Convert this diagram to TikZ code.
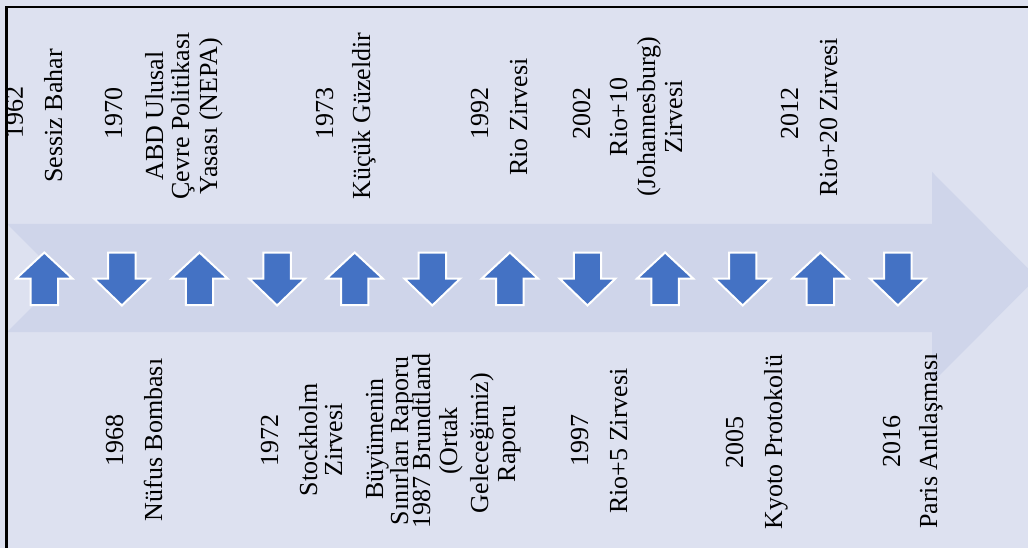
\documentclass[tikz,border=0pt]{standalone}
\usepackage{fontspec}
\setmainfont{Liberation Serif}
\definecolor{bgcol}{RGB}{221,225,240}
\definecolor{shaftcol}{RGB}{207,213,234}
\definecolor{blu}{RGB}{68,114,196}
\begin{document}
\begin{tikzpicture}[x=1pt,y=-1pt,
  txt/.style={rotate=90,anchor=base,inner sep=0pt,font=\fontsize{26}{28}\selectfont},
  blk/.style={fill=blu,draw=white,line width=2pt,line join=miter}]
\useasboundingbox (0,0) rectangle (1028,548);
\fill[bgcol] (0,0) rectangle (1028,548);
% big notched arrow
\fill[shaftcol] (7,224) -- (932,224) -- (932,172) -- (1037,277.5) -- (932,383) -- (932,332) -- (7,332) -- (61,278) -- cycle;
% small up / down arrows
\foreach \i in {0,2,...,10} {
  \pgfmathsetmacro\c{44.3+77.6*\i}
  \draw[blk] (\c,252.5) -- (\c+28,278.5) -- (\c+13.7,278.5) -- (\c+13.7,305) -- (\c-13.7,305) -- (\c-13.7,278.5) -- (\c-28,278.5) -- cycle;
}
\foreach \i in {1,3,...,11} {
  \pgfmathsetmacro\c{44.3+77.6*\i}
  \draw[blk] (\c-13.7,252.5) -- (\c+13.7,252.5) -- (\c+13.7,278.5) -- (\c+28,278.5) -- (\c,305.5) -- (\c-28,278.5) -- (\c-13.7,278.5) -- cycle;
}
% frame lines
\draw[line width=2.2pt,black] (6.5,548) -- (6.5,7) -- (1028,7);
% top texts
\node[txt] (t1y) at (23,113) {1962};
\node[txt] (t1a) at (62,116) {Sessiz Bahar};
\node[txt] (t2y) at (122,114) {1970};
\node[txt] (t2a) at (163,116) {ABD Ulusal};
\node[txt] (t2b) at (189,116) {Çevre Politikası};
\node[txt] (t2c) at (217,116) {Yasası (NEPA)};
\node[txt] (t3y) at (333,114) {1973};
\node[txt] (t3a) at (370,116) {Küçük Güzeldir};
\node[txt] (t4y) at (488,114) {1992};
\node[txt] (t4a) at (527,117) {Rio Zirvesi};
\node[txt] (t5y) at (590,114) {2002};
\node[txt] (t5a) at (627,117) {Rio+10};
\node[txt] (t5b) at (655,117) {(Johannesburg)};
\node[txt] (t5c) at (682,117) {Zirvesi};
\node[txt] (t6y) at (798,114) {2012};
\node[txt] (t6a) at (837,117) {Rio+20 Zirvesi};
% bottom texts
\node[txt] (b1y) at (123,440) {1968};
\node[txt] (b1a) at (162,440) {Nüfus Bombası};
\node[txt] (b2y) at (278,440) {1972};
\node[txt] (b2a) at (317,440) {Stockholm};
\node[txt] (b2b) at (342,440) {Zirvesi};
\node[txt] (b3a) at (383,439) {Büyümenin};
\node[txt] (b3b) at (408,441) {Sınırları Raporu};
\node[txt] (b3c) at (430,441) {1987 Brundtland};
\node[txt] (b3d) at (457,441) {(Ortak};
\node[txt] (b3e) at (488,443) {Geleceğimiz)};
\node[txt] (b3f) at (515,444) {Raporu};
\node[txt] (b4y) at (588,440) {1997};
\node[txt] (b4a) at (627,441) {Rio+5 Zirvesi};
\node[txt] (b5y) at (743,442) {2005};
\node[txt] (b5a) at (782,442) {Kyoto Protokolü};
\node[txt] (b6y) at (900,441) {2016};
\node[txt] (b6a) at (937,441) {Paris Antlaşması};
\end{tikzpicture}
\end{document}
